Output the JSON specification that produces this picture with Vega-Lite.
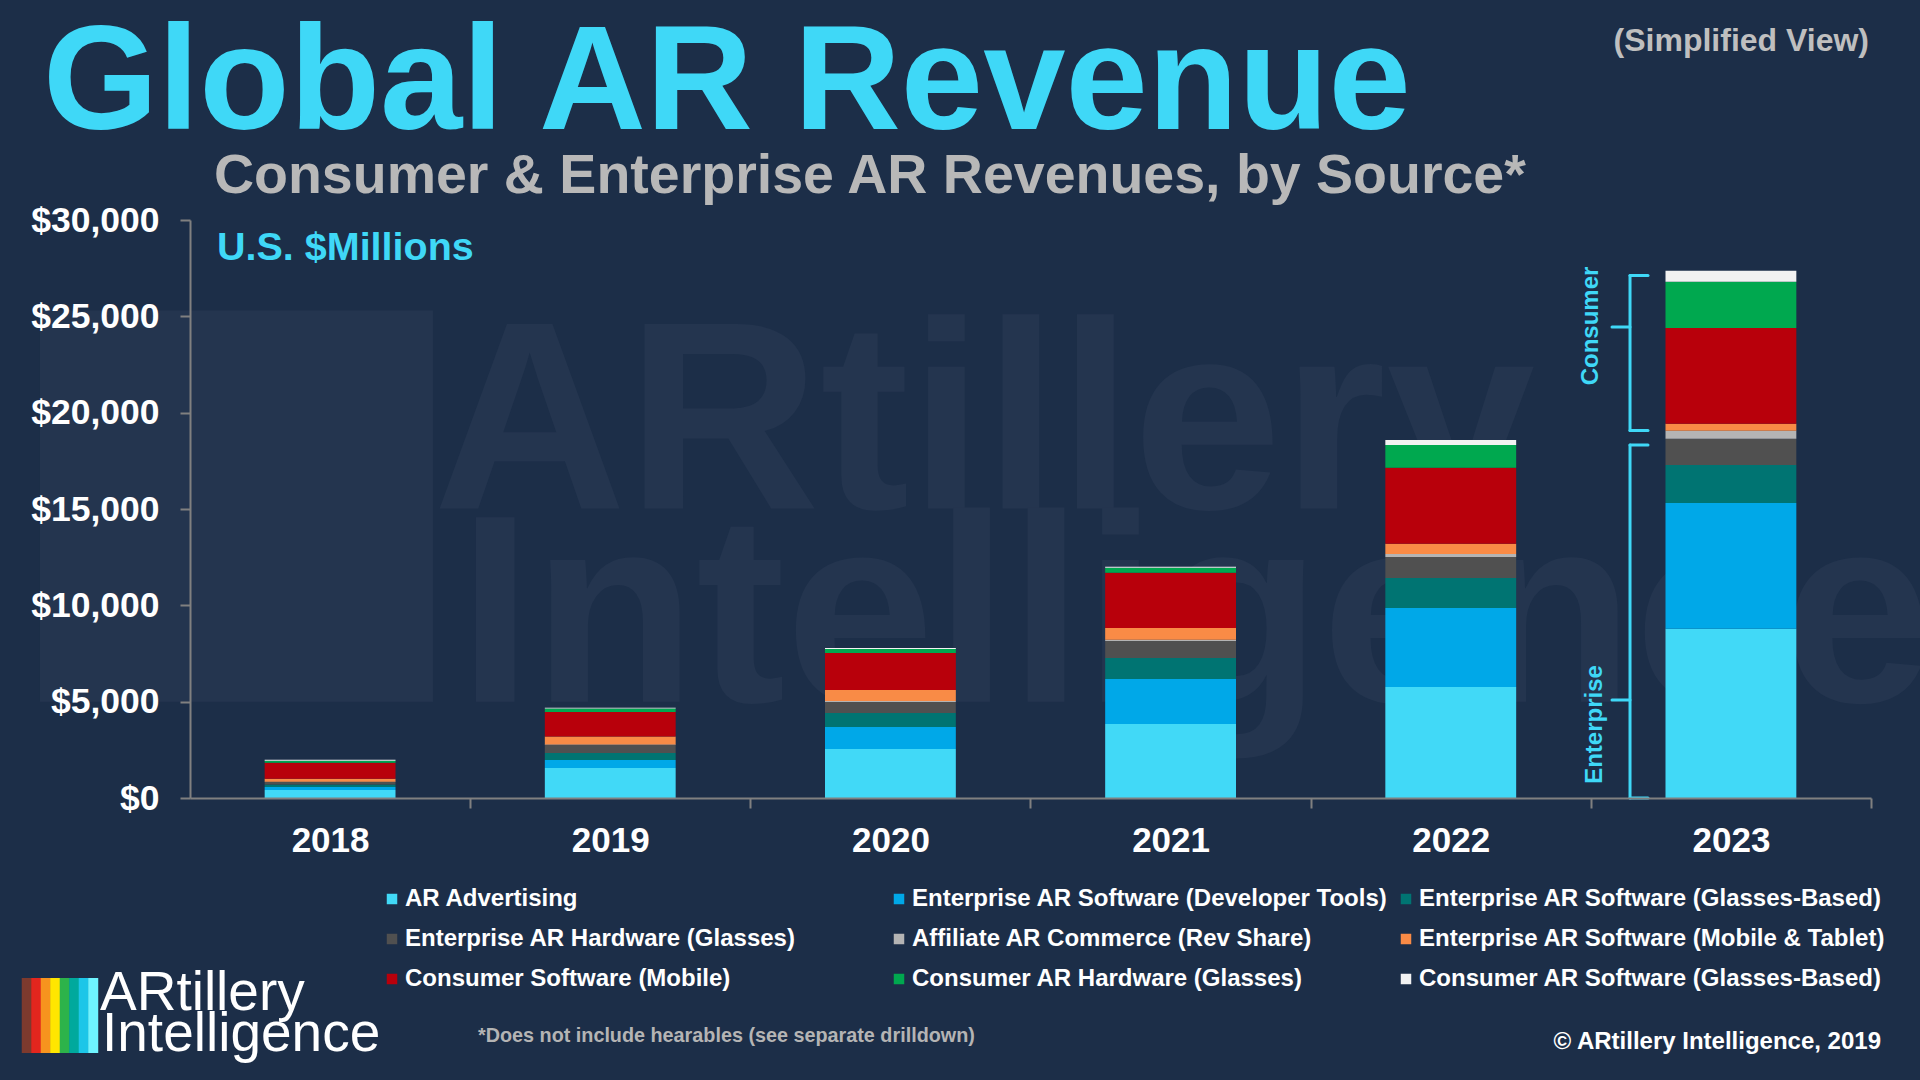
{
  "$schema": "https://vega.github.io/schema/vega-lite/v6.json",
  "width": 1681,
  "height": 578,
  "autosize": {"type": "none"},
  "padding": {"left": 190, "top": 220, "right": 49, "bottom": 282},
  "background": "#1c2e48",
  "config": {
    "font": "Liberation Sans",
    "view": {"stroke": null},
    "axis": {"labelFont": "Liberation Sans", "titleFont": "Liberation Sans"},
    "legend": {"labelFont": "Liberation Sans"}
  },
  "layer": [
    {
      "data": {"values": [{}]},
      "mark": {"type": "rule", "color": "#24354f", "strokeWidth": 393, "strokeCap": "butt", "xOffset": -93.6},
      "encoding": {
        "x": {"datum": "2018", "type": "ordinal", "bandPosition": 0.5},
        "y": {"datum": 25300, "type": "quantitative"},
        "y2": {"datum": 5000}
      }
    },
    {
      "data": {"values": [{}]},
      "mark": {"type": "text", "text": "ARtillery", "fontSize": 268, "fontWeight": "bold", "color": "#24354f", "align": "left", "baseline": "alphabetic", "xOffset": 102.9},
      "encoding": {
        "x": {"datum": "2018", "type": "ordinal", "bandPosition": 0.5},
        "y": {"datum": 15030, "type": "quantitative"}
      }
    },
    {
      "data": {"values": [{}]},
      "mark": {"type": "text", "text": "Intelligence", "fontSize": 268, "fontWeight": "bold", "color": "#24354f", "align": "left", "baseline": "alphabetic", "xOffset": 127.9},
      "encoding": {
        "x": {"datum": "2018", "type": "ordinal", "bandPosition": 0.5},
        "y": {"datum": 5000, "type": "quantitative"}
      }
    },
    {
      "data": {
        "values": [
          {"year": "2018", "rank": 1, "source": "AR Advertising", "value": 420},
          {"year": "2018", "rank": 2, "source": "Enterprise AR Software (Developer Tools)", "value": 155},
          {"year": "2018", "rank": 3, "source": "Enterprise AR Software (Glasses-Based)", "value": 120},
          {"year": "2018", "rank": 4, "source": "Enterprise AR Hardware (Glasses)", "value": 140},
          {"year": "2018", "rank": 5, "source": "Affiliate AR Commerce (Rev Share)", "value": 10},
          {"year": "2018", "rank": 6, "source": "Enterprise AR Software (Mobile & Tablet)", "value": 155},
          {"year": "2018", "rank": 7, "source": "Consumer Software (Mobile)", "value": 830},
          {"year": "2018", "rank": 8, "source": "Consumer AR Hardware (Glasses)", "value": 100},
          {"year": "2018", "rank": 9, "source": "Consumer AR Software (Glasses-Based)", "value": 50},
          {"year": "2019", "rank": 1, "source": "AR Advertising", "value": 1560},
          {"year": "2019", "rank": 2, "source": "Enterprise AR Software (Developer Tools)", "value": 415},
          {"year": "2019", "rank": 3, "source": "Enterprise AR Software (Glasses-Based)", "value": 365},
          {"year": "2019", "rank": 4, "source": "Enterprise AR Hardware (Glasses)", "value": 415},
          {"year": "2019", "rank": 5, "source": "Affiliate AR Commerce (Rev Share)", "value": 20},
          {"year": "2019", "rank": 6, "source": "Enterprise AR Software (Mobile & Tablet)", "value": 415},
          {"year": "2019", "rank": 7, "source": "Consumer Software (Mobile)", "value": 1280},
          {"year": "2019", "rank": 8, "source": "Consumer AR Hardware (Glasses)", "value": 170},
          {"year": "2019", "rank": 9, "source": "Consumer AR Software (Glasses-Based)", "value": 50},
          {"year": "2020", "rank": 1, "source": "AR Advertising", "value": 2540},
          {"year": "2020", "rank": 2, "source": "Enterprise AR Software (Developer Tools)", "value": 1140},
          {"year": "2020", "rank": 3, "source": "Enterprise AR Software (Glasses-Based)", "value": 730},
          {"year": "2020", "rank": 4, "source": "Enterprise AR Hardware (Glasses)", "value": 570},
          {"year": "2020", "rank": 5, "source": "Affiliate AR Commerce (Rev Share)", "value": 50},
          {"year": "2020", "rank": 6, "source": "Enterprise AR Software (Mobile & Tablet)", "value": 570},
          {"year": "2020", "rank": 7, "source": "Consumer Software (Mobile)", "value": 1920},
          {"year": "2020", "rank": 8, "source": "Consumer AR Hardware (Glasses)", "value": 210},
          {"year": "2020", "rank": 9, "source": "Consumer AR Software (Glasses-Based)", "value": 50},
          {"year": "2021", "rank": 1, "source": "AR Advertising", "value": 3840},
          {"year": "2021", "rank": 2, "source": "Enterprise AR Software (Developer Tools)", "value": 2340},
          {"year": "2021", "rank": 3, "source": "Enterprise AR Software (Glasses-Based)", "value": 1090},
          {"year": "2021", "rank": 4, "source": "Enterprise AR Hardware (Glasses)", "value": 880},
          {"year": "2021", "rank": 5, "source": "Affiliate AR Commerce (Rev Share)", "value": 60},
          {"year": "2021", "rank": 6, "source": "Enterprise AR Software (Mobile & Tablet)", "value": 620},
          {"year": "2021", "rank": 7, "source": "Consumer Software (Mobile)", "value": 2855},
          {"year": "2021", "rank": 8, "source": "Consumer AR Hardware (Glasses)", "value": 260},
          {"year": "2021", "rank": 9, "source": "Consumer AR Software (Glasses-Based)", "value": 55},
          {"year": "2022", "rank": 1, "source": "AR Advertising", "value": 5760},
          {"year": "2022", "rank": 2, "source": "Enterprise AR Software (Developer Tools)", "value": 4100},
          {"year": "2022", "rank": 3, "source": "Enterprise AR Software (Glasses-Based)", "value": 1560},
          {"year": "2022", "rank": 4, "source": "Enterprise AR Hardware (Glasses)", "value": 1090},
          {"year": "2022", "rank": 5, "source": "Affiliate AR Commerce (Rev Share)", "value": 160},
          {"year": "2022", "rank": 6, "source": "Enterprise AR Software (Mobile & Tablet)", "value": 520},
          {"year": "2022", "rank": 7, "source": "Consumer Software (Mobile)", "value": 3945},
          {"year": "2022", "rank": 8, "source": "Consumer AR Hardware (Glasses)", "value": 1190},
          {"year": "2022", "rank": 9, "source": "Consumer AR Software (Glasses-Based)", "value": 260},
          {"year": "2023", "rank": 1, "source": "AR Advertising", "value": 8790},
          {"year": "2023", "rank": 2, "source": "Enterprise AR Software (Developer Tools)", "value": 6525},
          {"year": "2023", "rank": 3, "source": "Enterprise AR Software (Glasses-Based)", "value": 1965},
          {"year": "2023", "rank": 4, "source": "Enterprise AR Hardware (Glasses)", "value": 1370},
          {"year": "2023", "rank": 5, "source": "Affiliate AR Commerce (Rev Share)", "value": 410},
          {"year": "2023", "rank": 6, "source": "Enterprise AR Software (Mobile & Tablet)", "value": 370},
          {"year": "2023", "rank": 7, "source": "Consumer Software (Mobile)", "value": 4970},
          {"year": "2023", "rank": 8, "source": "Consumer AR Hardware (Glasses)", "value": 2390},
          {"year": "2023", "rank": 9, "source": "Consumer AR Software (Glasses-Based)", "value": 575}
        ]
      },
      "mark": {"type": "bar"},
      "encoding": {
        "x": {
          "field": "year", "type": "ordinal",
          "scale": {"domain": ["2018", "2019", "2020", "2021", "2022", "2023"], "paddingInner": 0.533, "paddingOuter": 0.2665},
          "axis": {
            "title": null, "labelAngle": 0, "labelAlign": "center", "labelFlush": false, "labelFontSize": 35, "labelFontWeight": "bold", "labelColor": "#ffffff",
            "labelPadding": 32, "tickOffset": 140.08, "labelOffset": -140.08, "tickSize": 10, "tickWidth": 2, "tickColor": "#808080",
            "domainColor": "#808080", "domainWidth": 2, "grid": false, "zindex": 2
          }
        },
        "y": {
          "field": "value", "type": "quantitative", "stack": "zero",
          "scale": {"domain": [0, 30000], "nice": false},
          "axis": {
            "title": null, "values": [0, 5000, 10000, 15000, 20000, 25000, 30000], "format": "$,.0f",
            "labelFontSize": 35.5, "labelFontWeight": "bold", "labelColor": "#ffffff", "labelPadding": 21,
            "tickSize": 10, "tickWidth": 2, "tickColor": "#808080", "domainColor": "#808080", "domainWidth": 2, "grid": false, "zindex": 2
          }
        },
        "order": {"field": "rank", "type": "quantitative", "sort": "ascending"},
        "color": {
          "field": "source", "type": "nominal",
          "scale": {
            "domain": ["AR Advertising", "Enterprise AR Software (Developer Tools)", "Enterprise AR Software (Glasses-Based)", "Enterprise AR Hardware (Glasses)", "Affiliate AR Commerce (Rev Share)", "Enterprise AR Software (Mobile & Tablet)", "Consumer Software (Mobile)", "Consumer AR Hardware (Glasses)", "Consumer AR Software (Glasses-Based)"],
            "range": ["#41d9f7", "#00a8e8", "#007472", "#505050", "#b4b4b4", "#f98b46", "#b8000b", "#00a84f", "#f2f2f2"]
          },
          "legend": {
            "title": null, "orient": "none", "legendX": 190, "legendY": 667, "direction": "horizontal", "columns": 3,
            "gridAlign": "all", "columnPadding": 6, "rowPadding": 16, "symbolType": "square", "symbolSize": 110,
            "symbolStrokeWidth": 0, "labelFontSize": 24, "labelFontWeight": "bold", "labelColor": "#ffffff",
            "labelLimit": 700, "labelOffset": 1, "padding": 0
          }
        }
      }
    },
    {
      "data": {"values": [{}]},
      "mark": {"type": "text", "text": "Global AR Revenue", "fontSize": 148, "fontWeight": "bold", "color": "#3fd8f7", "align": "left", "baseline": "alphabetic", "xOffset": -287.1},
      "encoding": {
        "x": {"datum": "2018", "type": "ordinal", "bandPosition": 0.5},
        "y": {"datum": 34723, "type": "quantitative"}
      }
    },
    {
      "data": {"values": [{}]},
      "mark": {"type": "text", "text": "Consumer & Enterprise AR Revenues, by Source*", "fontSize": 55.5, "fontWeight": "bold", "color": "#b8b8b8", "align": "left", "baseline": "alphabetic", "xOffset": -116.1},
      "encoding": {
        "x": {"datum": "2018", "type": "ordinal", "bandPosition": 0.5},
        "y": {"datum": 31401, "type": "quantitative"}
      }
    },
    {
      "data": {"values": [{}]},
      "mark": {"type": "text", "text": "(Simplified View)", "fontSize": 32, "fontWeight": "bold", "color": "#bfbfbf", "align": "right", "baseline": "alphabetic", "xOffset": 138.1},
      "encoding": {
        "x": {"datum": "2023", "type": "ordinal", "bandPosition": 0.5},
        "y": {"datum": 38787, "type": "quantitative"}
      }
    },
    {
      "data": {"values": [{}]},
      "mark": {"type": "text", "text": "U.S. $Millions", "fontSize": 39.5, "fontWeight": "bold", "color": "#3fd8f7", "align": "left", "baseline": "alphabetic", "xOffset": -113.1},
      "encoding": {
        "x": {"datum": "2018", "type": "ordinal", "bandPosition": 0.5},
        "y": {"datum": 27903, "type": "quantitative"}
      }
    },
    {
      "data": {"values": [{}]},
      "mark": {"type": "text", "text": "*Does not include hearables (see separate drilldown)", "fontSize": 19.8, "fontWeight": "bold", "color": "#b4b4b4", "align": "left", "baseline": "middle", "xOffset": 147.9},
      "encoding": {
        "x": {"datum": "2018", "type": "ordinal", "bandPosition": 0.5},
        "y": {"datum": -12353, "type": "quantitative"}
      }
    },
    {
      "data": {"values": [{}]},
      "mark": {"type": "text", "text": "© ARtillery Intelligence, 2019", "fontSize": 24, "fontWeight": "bold", "color": "#ffffff", "align": "right", "baseline": "middle", "xOffset": 150.1},
      "encoding": {
        "x": {"datum": "2023", "type": "ordinal", "bandPosition": 0.5},
        "y": {"datum": -12664, "type": "quantitative"}
      }
    },
    {
      "data": {"values": [{}]},
      "mark": {"type": "text", "text": "Consumer", "fontSize": 24, "fontWeight": "bold", "color": "#3fd8f7", "align": "center", "baseline": "middle", "angle": 270, "xOffset": -140},
      "encoding": {
        "x": {"datum": "2023", "type": "ordinal", "bandPosition": 0.5},
        "y": {"datum": 24500, "type": "quantitative"}
      }
    },
    {
      "data": {"values": [{}]},
      "mark": {"type": "text", "text": "Enterprise", "fontSize": 24, "fontWeight": "bold", "color": "#3fd8f7", "align": "center", "baseline": "middle", "angle": 270, "xOffset": -136},
      "encoding": {
        "x": {"datum": "2023", "type": "ordinal", "bandPosition": 0.5},
        "y": {"datum": 3815, "type": "quantitative"}
      }
    },
    {
      "data": {"values": [{}]},
      "mark": {"type": "rule", "color": "#3fd8f7", "strokeWidth": 3, "strokeCap": "round", "xOffset": -100.9},
      "encoding": {
        "x": {"datum": "2023", "type": "ordinal", "bandPosition": 0.5},
        "y": {"datum": 27120, "type": "quantitative"},
        "y2": {"datum": 19070}
      }
    },
    {
      "data": {"values": [{}]},
      "mark": {"type": "rule", "color": "#3fd8f7", "strokeWidth": 3, "strokeCap": "round", "xOffset": -100.9, "x2Offset": -82.9},
      "encoding": {
        "x": {"datum": "2023", "type": "ordinal", "bandPosition": 0.5},
        "x2": {"datum": "2023", "bandPosition": 0.5},
        "y": {"datum": 27120, "type": "quantitative"}
      }
    },
    {
      "data": {"values": [{}]},
      "mark": {"type": "rule", "color": "#3fd8f7", "strokeWidth": 3, "strokeCap": "round", "xOffset": -100.9, "x2Offset": -82.9},
      "encoding": {
        "x": {"datum": "2023", "type": "ordinal", "bandPosition": 0.5},
        "x2": {"datum": "2023", "bandPosition": 0.5},
        "y": {"datum": 19070, "type": "quantitative"}
      }
    },
    {
      "data": {"values": [{}]},
      "mark": {"type": "rule", "color": "#3fd8f7", "strokeWidth": 3, "strokeCap": "round", "xOffset": -118.9, "x2Offset": -100.9},
      "encoding": {
        "x": {"datum": "2023", "type": "ordinal", "bandPosition": 0.5},
        "x2": {"datum": "2023", "bandPosition": 0.5},
        "y": {"datum": 24450, "type": "quantitative"}
      }
    },
    {
      "data": {"values": [{}]},
      "mark": {"type": "rule", "color": "#3fd8f7", "strokeWidth": 3, "strokeCap": "round", "xOffset": -100.9},
      "encoding": {
        "x": {"datum": "2023", "type": "ordinal", "bandPosition": 0.5},
        "y": {"datum": 18320, "type": "quantitative"},
        "y2": {"datum": 0}
      }
    },
    {
      "data": {"values": [{}]},
      "mark": {"type": "rule", "color": "#3fd8f7", "strokeWidth": 3, "strokeCap": "round", "xOffset": -100.9, "x2Offset": -82.9},
      "encoding": {
        "x": {"datum": "2023", "type": "ordinal", "bandPosition": 0.5},
        "x2": {"datum": "2023", "bandPosition": 0.5},
        "y": {"datum": 18320, "type": "quantitative"}
      }
    },
    {
      "data": {"values": [{}]},
      "mark": {"type": "rule", "color": "#3fd8f7", "strokeWidth": 3, "strokeCap": "round", "xOffset": -100.9, "x2Offset": -82.9},
      "encoding": {
        "x": {"datum": "2023", "type": "ordinal", "bandPosition": 0.5},
        "x2": {"datum": "2023", "bandPosition": 0.5},
        "y": {"datum": 0, "type": "quantitative"}
      }
    },
    {
      "data": {"values": [{}]},
      "mark": {"type": "rule", "color": "#3fd8f7", "strokeWidth": 3, "strokeCap": "round", "xOffset": -118.9, "x2Offset": -100.9},
      "encoding": {
        "x": {"datum": "2023", "type": "ordinal", "bandPosition": 0.5},
        "x2": {"datum": "2023", "bandPosition": 0.5},
        "y": {"datum": 5090, "type": "quantitative"}
      }
    },
    {
      "data": {"values": [{}]},
      "mark": {"type": "rule", "color": "#7d3a2e", "strokeWidth": 10, "strokeCap": "butt", "xOffset": -303.35},
      "encoding": {"x": {"datum": "2018", "type": "ordinal", "bandPosition": 0.5}, "y": {"datum": -9343, "type": "quantitative"}, "y2": {"datum": -13235}}
    },
    {
      "data": {"values": [{}]},
      "mark": {"type": "rule", "color": "#e3261e", "strokeWidth": 10, "strokeCap": "butt", "xOffset": -293.85},
      "encoding": {"x": {"datum": "2018", "type": "ordinal", "bandPosition": 0.5}, "y": {"datum": -9343, "type": "quantitative"}, "y2": {"datum": -13235}}
    },
    {
      "data": {"values": [{}]},
      "mark": {"type": "rule", "color": "#f7941e", "strokeWidth": 10, "strokeCap": "butt", "xOffset": -284.35},
      "encoding": {"x": {"datum": "2018", "type": "ordinal", "bandPosition": 0.5}, "y": {"datum": -9343, "type": "quantitative"}, "y2": {"datum": -13235}}
    },
    {
      "data": {"values": [{}]},
      "mark": {"type": "rule", "color": "#ffe600", "strokeWidth": 10, "strokeCap": "butt", "xOffset": -274.85},
      "encoding": {"x": {"datum": "2018", "type": "ordinal", "bandPosition": 0.5}, "y": {"datum": -9343, "type": "quantitative"}, "y2": {"datum": -13235}}
    },
    {
      "data": {"values": [{}]},
      "mark": {"type": "rule", "color": "#2db34a", "strokeWidth": 10, "strokeCap": "butt", "xOffset": -265.35},
      "encoding": {"x": {"datum": "2018", "type": "ordinal", "bandPosition": 0.5}, "y": {"datum": -9343, "type": "quantitative"}, "y2": {"datum": -13235}}
    },
    {
      "data": {"values": [{}]},
      "mark": {"type": "rule", "color": "#00a99d", "strokeWidth": 10, "strokeCap": "butt", "xOffset": -255.85},
      "encoding": {"x": {"datum": "2018", "type": "ordinal", "bandPosition": 0.5}, "y": {"datum": -9343, "type": "quantitative"}, "y2": {"datum": -13235}}
    },
    {
      "data": {"values": [{}]},
      "mark": {"type": "rule", "color": "#1cc6e8", "strokeWidth": 10, "strokeCap": "butt", "xOffset": -246.35},
      "encoding": {"x": {"datum": "2018", "type": "ordinal", "bandPosition": 0.5}, "y": {"datum": -9343, "type": "quantitative"}, "y2": {"datum": -13235}}
    },
    {
      "data": {"values": [{}]},
      "mark": {"type": "rule", "color": "#6ff4ff", "strokeWidth": 10, "strokeCap": "butt", "xOffset": -236.85},
      "encoding": {"x": {"datum": "2018", "type": "ordinal", "bandPosition": 0.5}, "y": {"datum": -9343, "type": "quantitative"}, "y2": {"datum": -13235}}
    },
    {
      "data": {"values": [{}]},
      "mark": {"type": "text", "text": "ARtillery", "fontSize": 55, "color": "#ffffff", "align": "left", "baseline": "alphabetic", "xOffset": -230.1},
      "encoding": {
        "x": {"datum": "2018", "type": "ordinal", "bandPosition": 0.5},
        "y": {"datum": -11003, "type": "quantitative"}
      }
    },
    {
      "data": {"values": [{}]},
      "mark": {"type": "text", "text": "Intelligence", "fontSize": 55, "color": "#ffffff", "align": "left", "baseline": "alphabetic", "xOffset": -228.1},
      "encoding": {
        "x": {"datum": "2018", "type": "ordinal", "bandPosition": 0.5},
        "y": {"datum": -13131, "type": "quantitative"}
      }
    }
  ]
}
